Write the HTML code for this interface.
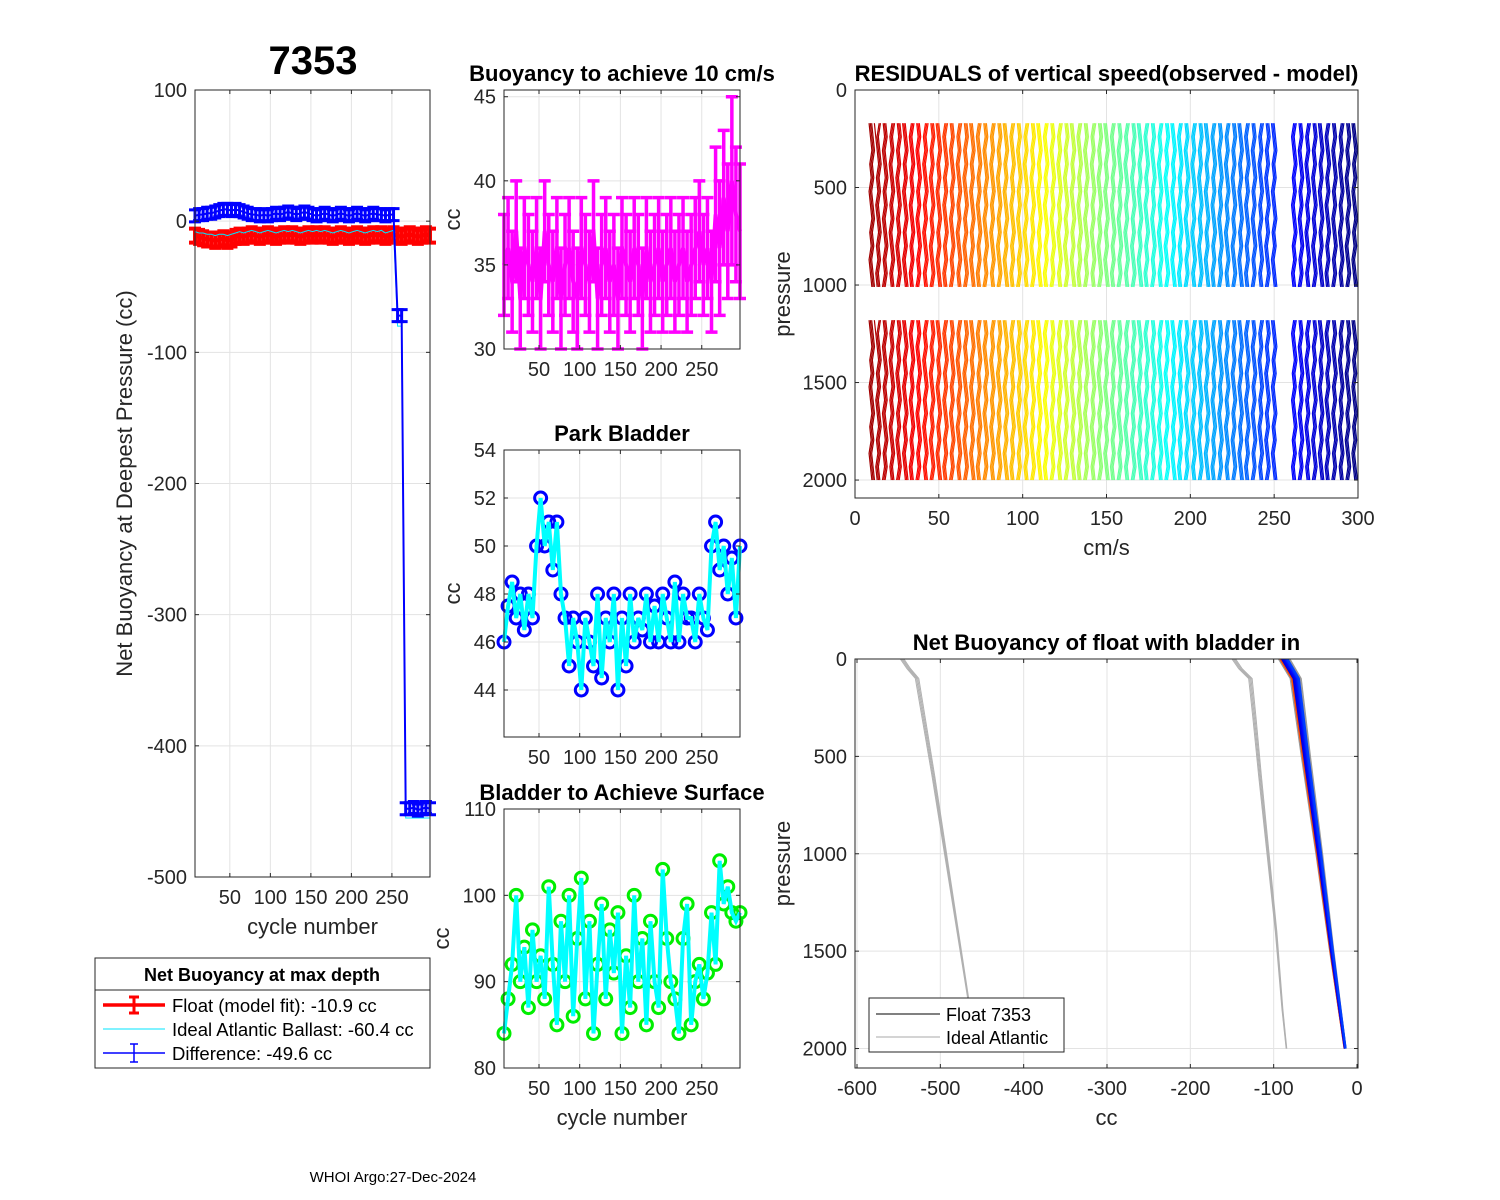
<!DOCTYPE html>
<html><head><meta charset="utf-8"><style>
body{margin:0;background:#fff;}
svg{display:block;font-family:"Liberation Sans",sans-serif;}
</style></head><body>
<svg id="fig" width="1500" height="1200" viewBox="0 0 1500 1200" xmlns="http://www.w3.org/2000/svg">
<rect width="1500" height="1200" fill="#fff"/>
<g id="g"></g>
</svg>
<script>
// ---------- data ----------
const cycles=[7,12,17,22,27,32,37,42,47,52,57,62,67,72,77,82,87,92,97,102,107,112,117,122,127,132,137,142,147,152,157,162,167,172,177,182,187,192,197,202,207,212,217,222,227,232,237,242,247,252,257,262,267,272,277,282,287,292,297];
const floatFit=[-11,-12,-13,-14,-14,-15,-14,-13,-15,-14,-12,-11,-12,-11,-10,-11,-12,-11,-10,-11,-12,-11,-10,-11,-10,-11,-12,-11,-10,-11,-10,-11,-10,-11,-12,-11,-10,-11,-12,-11,-10,-11,-12,-11,-10,-11,-10,-12,-11,-10,-11,-12,-11,-10,-11,-12,-11,-10,-11];
const idealBallast=[-8,-9,-9,-10,-10,-11,-10,-10,-11,-10,-9,-8,-9,-8,-7,-8,-9,-8,-7,-8,-9,-8,-7,-8,-7,-8,-9,-8,-7,-8,-7,-8,-7,-8,-9,-8,-7,-8,-9,-8,-7,-8,-9,-8,-7,-8,-7,-9,-8,-7,-80,-80,-455,-455,-455,-455,-455,-455,-455];
const difference=[4,5,5,6,6,7,8,9,9,8,9,8,7,6,5,5,4,5,4,5,6,5,6,7,6,5,6,7,6,5,4,5,6,5,4,5,6,5,4,5,6,5,4,5,6,5,5,4,5,5,-72,-72,-448,-448,-447,-449,-448,-447,-448];
const buoy10=[35,36,34,37,33,36,35,34,36,33,37,35,34,36,33,35,36,34,33,36,35,34,37,33,35,36,34,35,33,36,35,34,36,35,33,36,34,35,36,34,35,36,34,35,36,34,35,36,37,35,36,34,38,36,39,37,40,38,37];
const buoyErr=[3,3,3,3,3,3,3,3,3,3,3,3,3,3,3,3,3,3,3,3,3,3,3,3,3,3,3,3,3,3,3,3,3,3,3,3,3,3,3,3,3,3,3,3,3,3,3,3,3,3,3,3,4,4,4,4,5,4,4];
const parkBladder=[46,47.5,48.5,47,48,46.5,48,47,50,52,50,51,49,51,48,47,45,47,46,44,47,46,45,48,44.5,47,46,48,44,47,45,48,46,47,46.5,48,46,47.5,46,48,47,46,48.5,46,48,47,47,46,48,47,46.5,50,51,49,50,48,49.5,47,50];
const surfBladder=[84,88,92,100,90,94,87,96,90,93,88,101,92,85,97,90,100,86,95,102,88,97,84,92,99,88,96,91,98,84,93,87,100,90,95,85,97,90,87,103,95,90,88,84,95,99,85,90,92,88,91,98,92,104,99,101,98,97,98];
const residCycles=[10,14,18,22,26,30,34,38,42,46,50,54,58,62,66,70,74,78,82,86,90,94,98,102,106,110,114,118,122,126,130,134,138,142,146,150,154,158,162,166,170,174,178,182,186,190,194,198,202,206,210,214,218,222,226,230,234,238,242,246,250,262,266,270,274,278,282,286,290,294,298];
const xTicks=[50,100,150,200,250];

const NS="http://www.w3.org/2000/svg";
const G=document.getElementById('g');
function el(tag,attrs,parent){const e=document.createElementNS(NS,tag);for(const k in attrs)e.setAttribute(k,attrs[k]);(parent||G).appendChild(e);return e;}
function txt(s,x,y,opt,parent){opt=opt||{};const t=el('text',{x:x,y:y,'font-size':opt.size||19,'text-anchor':opt.anchor||'middle','font-weight':opt.bold?'bold':'normal',fill:opt.fill||'#262626'},parent);if(opt.rot)t.setAttribute('transform','rotate(-90 '+x+' '+y+')');t.textContent=s;return t;}
function lin(d0,d1,p0,p1){return v=>p0+(v-d0)*(p1-p0)/(d1-d0);}
function jet(f){f=Math.max(0,Math.min(1,f));const r=Math.max(0,Math.min(1,1.5-Math.abs(4*f-3))),g=Math.max(0,Math.min(1,1.5-Math.abs(4*f-2))),b=Math.max(0,Math.min(1,1.5-Math.abs(4*f-1)));return 'rgb('+Math.round(r*255)+','+Math.round(g*255)+','+Math.round(b*255)+')';}

function axes(name,x0,y0,x1,y1,sx,sy,xt,yt,xlab,ylab,opt){
  const g=el('g',{});
  el('rect',{x:x0,y:y0,width:x1-x0,height:y1-y0,fill:'#fff'},g);
  const grid=el('g',{stroke:'#e3e3e3','stroke-width':1},g);
  xt.forEach(v=>el('line',{x1:sx(v),y1:y0,x2:sx(v),y2:y1},grid));
  yt.forEach(v=>el('line',{x1:x0,y1:sy(v),x2:x1,y2:sy(v)},grid));
  const plot=el('g',{},g);
  const front=el('g',{},g);
  el('rect',{x:x0,y:y0,width:x1-x0,height:y1-y0,fill:'none',stroke:'#262626','stroke-width':1},front);
  xt.forEach(v=>{el('line',{x1:sx(v),y1:y1,x2:sx(v),y2:y1-4,stroke:'#262626'},front);el('line',{x1:sx(v),y1:y0,x2:sx(v),y2:y0+4,stroke:'#262626'},front);
    const t=txt(String(v),sx(v),y1+27,{size:20},front);});
  yt.forEach(v=>{el('line',{x1:x0,y1:sy(v),x2:x0+4,y2:sy(v),stroke:'#262626'},front);el('line',{x1:x1,y1:sy(v),x2:x1-4,y2:sy(v),stroke:'#262626'},front);
    const t=txt(String(v),x0-8,sy(v)+7,{anchor:'end',size:20},front);});
  if(xlab){const t=txt(xlab,(x0+x1)/2,y1+57,{size:22},front);}
  if(ylab){const t=txt(ylab,opt.ylx,(y0+y1)/2,{size:22,rot:true},front);}
  if(opt.title){const t=txt(opt.title,(x0+x1)/2,y0-9,{size:opt.tsize||22,bold:true,fill:'#000'},front);}
  return plot;
}
function n(){return Math.min.apply(null,arguments);}

// ---------- Panel 1 ----------
{const sx=lin(7,297,195,430), sy=lin(-500,100,877,90);
 const p=axes('net-buoyancy-panel',195,90,430,877,sx,sy,xTicks,[-500,-400,-300,-200,-100,0,100],'cycle number','Net Buoyancy at Deepest Pressure (cc)',{ylx:132});
 const N=n(cycles.length,floatFit.length,difference.length,idealBallast.length);
 let d='';for(let i=0;i<N;i++){d+=(i?'L':'M')+sx(cycles[i])+' '+sy(floatFit[i]);}
 for(let i=0;i<N;i++){const x=sx(cycles[i]),y=sy(floatFit[i]);const b=el('path',{d:'M'+x+' '+(y-7)+'V'+(y+7)+'M'+(x-6)+' '+(y-7)+'H'+(x+6)+'M'+(x-6)+' '+(y+7)+'H'+(x+6),stroke:'#ff0000','stroke-width':4,fill:'none'},p);}
 const rl=el('path',{d:d,stroke:'#ff0000','stroke-width':4,fill:'none'},p);
 d='';for(let i=0;i<N;i++){d+=(i?'L':'M')+sx(cycles[i])+' '+sy(idealBallast[i]);}
 const cl=el('path',{d:d,stroke:'#00e5ff','stroke-width':1,fill:'none'},p);
 d='';for(let i=0;i<N;i++){d+=(i?'L':'M')+sx(cycles[i])+' '+sy(difference[i]);}
 for(let i=0;i<N;i++){const x=sx(cycles[i]),y=sy(difference[i]);const b=el('path',{d:'M'+x+' '+(y-6)+'V'+(y+6)+'M'+(x-6)+' '+(y-6)+'H'+(x+6)+'M'+(x-6)+' '+(y+6)+'H'+(x+6),stroke:'#0000ff','stroke-width':3,fill:'none'},p);}
 const bl=el('path',{d:d,stroke:'#0000ff','stroke-width':2,fill:'none'},p);
}
{const t=txt('7353',313,74,{size:40,bold:true,fill:'#000'});}

// ---------- Panel 2 ----------
{const sx=lin(7,297,504,740), sy=lin(30,45.4,349,90);
 const p=axes('buoyancy-10cms-panel',504,90,740,349,sx,sy,xTicks,[30,35,40,45],'','cc',{ylx:460,title:'Buoyancy to achieve 10 cm/s'});
 const N=n(cycles.length,buoy10.length,buoyErr.length);
 let d='';for(let i=0;i<N;i++)d+=(i?'L':'M')+sx(cycles[i])+' '+sy(buoy10[i]);
 const l=el('path',{d:d,stroke:'#ff00ff','stroke-width':4,fill:'none'},p);
 for(let i=0;i<N;i++){const x=sx(cycles[i]),yt=sy(buoy10[i]+buoyErr[i]),yb=sy(buoy10[i]-buoyErr[i]);
  const b=el('path',{d:'M'+x+' '+yt+'V'+yb+'M'+(x-6)+' '+yt+'H'+(x+6)+'M'+(x-6)+' '+yb+'H'+(x+6),stroke:'#ff00ff','stroke-width':3.5,fill:'none'},p);}
}
// ---------- Panel 3 ----------
{const sx=lin(7,297,504,740), sy=lin(44,54,690,450);
 const p=axes('park-bladder-panel',504,450,740,737,sx,sy,xTicks,[44,46,48,50,52,54],'','cc',{ylx:460,title:'Park Bladder'});
 const N=n(cycles.length,parkBladder.length);
 for(let i=0;i<N;i++){const c=el('circle',{cx:sx(cycles[i]),cy:sy(parkBladder[i]),r:6,fill:'none',stroke:'#0000ff','stroke-width':3},p);}
 let d='';for(let i=0;i<N;i++)d+=(i?'L':'M')+sx(cycles[i])+' '+sy(parkBladder[i]);
 const l=el('path',{d:d,stroke:'#00ffff','stroke-width':4,fill:'none'},p);
}
// ---------- Panel 4 ----------
{const sx=lin(7,297,504,740), sy=lin(80,110,1068,809);
 const p=axes('surface-bladder-panel',504,809,740,1068,sx,sy,xTicks,[80,90,100,110],'cycle number','cc',{ylx:449,title:'Bladder to Achieve Surface'});
 const N=n(cycles.length,surfBladder.length);
 for(let i=0;i<N;i++){const c=el('circle',{cx:sx(cycles[i]),cy:sy(surfBladder[i]),r:6,fill:'none',stroke:'#00ee00','stroke-width':3},p);}
 let d='';for(let i=0;i<N;i++)d+=(i?'L':'M')+sx(cycles[i])+' '+sy(surfBladder[i]);
 const l=el('path',{d:d,stroke:'#00ffff','stroke-width':4,fill:'none'},p);
}
// ---------- Panel 5 residuals ----------
{const sx=lin(0,300,855,1358), sy=lin(0,2092,90,498);
 const p=axes('residuals-panel',855,90,1358,498,sx,sy,[0,50,100,150,200,250,300],[0,500,1000,1500,2000],'cm/s','pressure',{ylx:790,title:'RESIDUALS of vertical speed(observed - model)'});
 const segs=[[170,1010],[1180,2000]];
 residCycles.forEach((c,i)=>{const col=jet(1-c/300);
  for(let k=-1;k<=1;k++){segs.forEach(s=>{let d='';const steps=12;
   for(let j=0;j<=steps;j++){const pr=s[0]+(s[1]-s[0])*j/steps;const w=((j*7+i*3+k*5)%5-2)*0.7+k*1.3;d+=(j?'L':'M')+(sx(c)+w)+' '+sy(pr);}
   const l=el('path',{d:d,stroke:col,'stroke-width':1.2,fill:'none'},p);});}
 });
}
// ---------- Panel 6 ----------
const idealA_p=[0,50,100,300,600,1000,1400,1800];
const idealA_x=[-548,-540,-530,-522,-510,-495,-480,-465];
const idealB_p=[0,50,100,300,600,1000,1400,1800,2000];
const idealB_x=[-150,-142,-130,-125,-118,-108,-98,-90,-85];
const float_p=[0,50,100,500,1000,1500,2000];
const float_x=[-92,-85,-78,-65,-48,-32,-15];
{const sx=lin(-600,0,857,1357), sy=lin(0,2100,659,1068);
 const p=axes('net-buoyancy-profile-panel',855,659,1358,1068,sx,sy,[-600,-500,-400,-300,-200,-100,0],[0,500,1000,1500,2000],'cc','pressure',{ylx:790,title:'Net Buoyancy of float with bladder in'});
 function prof(px,pp,off,col,w,name){let d='';for(let i=0;i<n(px.length,pp.length);i++)d+=(i?'L':'M')+(sx(px[i])+off*(1-pp[i]/2400))+' '+sy(pp[i]);const l=el('path',{d:d,stroke:col,'stroke-width':w,fill:'none'},p);}
 for(let k=0;k<4;k++){prof(idealA_x,idealA_p,k*1.2,'#b0b0b0',1,'ideal-atlantic-profile');prof(idealB_x,idealB_p,k*1.2,'#b0b0b0',1,'ideal-atlantic-profile');}
 for(let k=0;k<14;k++)prof(float_x,float_p,k*0.9-2,'#999',1,'float-profile-gray');
 for(let k=0;k<10;k++)prof(float_x,float_p,k*0.8,jet(k<2?0.8:0.05+k*0.015),2,'float-profile');
 const lg=el('g',{});
 el('rect',{x:869,y:998,width:195,height:54,fill:'#fff',stroke:'#262626'},lg);
 el('line',{x1:876,y1:1014,x2:940,y2:1014,stroke:'#000'},lg);txt('Float 7353',946,1021,{anchor:'start',size:18,fill:'#000'},lg);
 el('line',{x1:876,y1:1037,x2:940,y2:1037,stroke:'#aaa'},lg);txt('Ideal Atlantic',946,1044,{anchor:'start',size:18,fill:'#000'},lg);
}
// ---------- left legend ----------
{const lg=el('g',{});
 el('rect',{x:95,y:958,width:335,height:110,fill:'#fff',stroke:'#262626'},lg);
 el('line',{x1:95,y1:990,x2:430,y2:990,stroke:'#262626'},lg);
 txt('Net Buoyancy at max depth',262,981,{bold:true,size:18,fill:'#000'},lg);
 el('line',{x1:103,y1:1005,x2:165,y2:1005,stroke:'#f00','stroke-width':3.5},lg);
 el('path',{d:'M134 997V1013M129 997H139M129 1013H139',stroke:'#f00','stroke-width':3,fill:'none'},lg);
 txt('Float (model fit): -10.9 cc',172,1012,{anchor:'start',size:18.5,fill:'#000'},lg);
 el('line',{x1:103,y1:1029,x2:165,y2:1029,stroke:'#00e5ff'},lg);
 txt('Ideal Atlantic Ballast: -60.4 cc',172,1036,{anchor:'start',size:18.5,fill:'#000'},lg);
 el('line',{x1:103,y1:1053,x2:165,y2:1053,stroke:'#00f','stroke-width':1.5},lg);
 el('path',{d:'M134 1044V1062M130 1044H138M130 1062H138',stroke:'#00f','stroke-width':1.5,fill:'none'},lg);
 txt('Difference: -49.6 cc',172,1060,{anchor:'start',size:18.5,fill:'#000'},lg);
}
{const t=txt('WHOI Argo:27-Dec-2024',393,1182,{size:15,fill:'#000'});}
</script>
</body></html>
